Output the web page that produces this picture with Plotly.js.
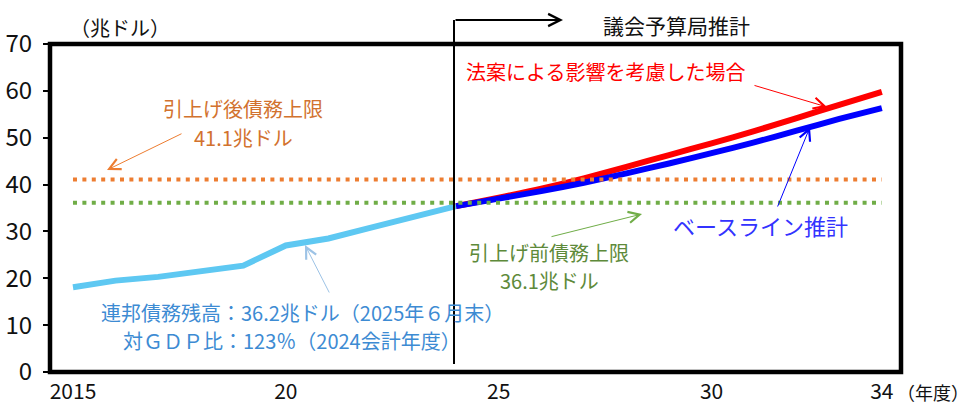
<!DOCTYPE html>
<html>
<head>
<meta charset="utf-8">
<script src="https://cdn.plot.ly/plotly-3.0.1.min.js"></script>
<style>html,body{margin:0;padding:0;background:#fff;}#chart{width:970px;height:407px;}</style>
</head>
<body>
<div id="chart"></div>
<script>
// ---- data ----
const histYears = [2015, 2016, 2017, 2018, 2019, 2020, 2021, 2022, 2023, 2024];
const histDebt = [18.1, 19.5, 20.3, 21.6, 22.7, 27.0, 28.5, 30.8, 33.0, 35.4];

const projYears = [2024, 2025, 2026, 2027, 2028, 2029, 2030, 2031, 2032, 2033, 2034];
const baseline = [35.4, 37.0, 38.6, 40.4, 42.4, 44.5, 46.7, 49.0, 51.5, 54.0, 56.3];
const withBill = [35.4, 37.2, 39.1, 41.3, 43.8, 46.3, 48.8, 51.4, 54.2, 57.0, 59.8];

const ceilingYears = [2015, 2034];
const ceilingAfter = [41.1, 41.1];
const ceilingBefore = [36.1, 36.1];

const xTickVals = [2015, 2020, 2025, 2030, 2034];
const xTickText = ['2015', '20', '25', '30', '34'];
const yTickVals = [0, 10, 20, 30, 40, 50, 60, 70];

// ---- layout helpers (pixel -> paper) ----
const L = 50, R = 901, T = 44, B = 372;
const px = v => (v - L) / (R - L);
const py = v => (B - v) / (B - T);

const JP = '"Noto Sans CJK JP", "Noto Sans", sans-serif';
const NUM = '"Liberation Sans Narrow", "Noto Sans CJK JP", sans-serif';

const traces = [
  {x: histYears, y: histDebt, mode: 'lines', line: {color: '#5EC8F2', width: 6}, hoverinfo: 'skip'},
  {x: projYears, y: withBill, mode: 'lines', line: {color: '#FF0000', width: 6, shape: 'spline', smoothing: 0.6}, hoverinfo: 'skip'},
  {x: projYears, y: baseline, mode: 'lines', line: {color: '#0000FF', width: 6, shape: 'spline', smoothing: 0.6}, hoverinfo: 'skip'},
  {x: ceilingYears, y: ceilingAfter, mode: 'lines', line: {color: '#ED7D31', width: 4, dash: '4px,5.4px'}, hoverinfo: 'skip'},
  {x: ceilingYears, y: ceilingBefore, mode: 'lines', line: {color: '#70AD47', width: 4, dash: '4px,5.4px'}, hoverinfo: 'skip'}
];

function txt(text, x, y, color, size, xanchor) {
  return {text: text, xref: 'paper', yref: 'paper', x: px(x), y: py(y), xanchor: xanchor || 'center', yanchor: 'middle',
          showarrow: false, font: {family: JP, size: size, color: color}, align: 'center'};
}
function arrow(x0, y0, x1, y1, color, width, head, size) {
  return {text: '', xref: 'paper', yref: 'paper', x: px(x1), y: py(y1), axref: 'pixel', ayref: 'pixel',
          ax: x0 - x1, ay: y0 - y1, showarrow: true, arrowcolor: color, arrowwidth: width,
          arrowhead: head, arrowsize: size, standoff: 0, startstandoff: 0};
}

const annotations = [
  txt('（兆ドル）', 120, 27, '#111', 20),
  txt('議会予算局推計', 676, 25, '#111', 21),
  txt('引上げ後債務上限', 243, 109, '#D2722E', 20),
  txt('41.1兆ドル', 243, 137, '#D2722E', 20),
  txt('法案による影響を考慮した場合', 605, 72, '#FF0000', 20),
  txt('ベースライン推計', 760, 225, '#3333FF', 22),
  txt('引上げ前債務上限', 549, 252, '#5E8A3A', 20),
  txt('36.1兆ドル', 549, 280, '#5E8A3A', 20),
  txt('連邦債務残高：36.2兆ドル（2025年６月末）', 99, 312, '#3D8BD3', 20, 'left'),
  txt('対ＧＤＰ比：123％（2024会計年度）', 121, 340, '#3D8BD3', 20, 'left'),
  txt('（年度）', 895, 392, '#111', 18, 'left'),
  arrow(454, 20, 563, 20, '#000', 2, 5, 1.2),
  arrow(183, 133, 107, 170, '#ED7D31', 1, 5, 2.2),
  arrow(753, 85, 827, 107, '#FF0000', 1, 5, 2.2),
  arrow(777, 208, 810, 127, '#0000FF', 1, 5, 2.2),
  arrow(550, 237, 642, 214, '#70AD47', 1, 5, 2.2),
  arrow(330, 294, 305, 245, '#9DC3E6', 1, 5, 2.2)
];

const shapes = [
  {type: 'rect', xref: 'paper', yref: 'paper', x0: 0, x1: 1, y0: 0, y1: 1, line: {color: '#000', width: 4.5}, layer: 'above'},
  {type: 'line', xref: 'paper', yref: 'paper', x0: px(454), x1: px(454), y0: py(364), y1: py(20), line: {color: '#000', width: 2}, layer: 'above'}
];

const layout = {
  width: 970, height: 407,
  margin: {l: L, r: 970 - R, t: T, b: 407 - B, pad: 0},
  paper_bgcolor: '#fff', plot_bgcolor: '#fff',
  showlegend: false,
  xaxis: {range: [2014.46, 2034.45], tickvals: xTickVals, ticktext: xTickText, showgrid: false, zeroline: false,
          showline: false, ticks: '', ticklabelstandoff: 5, tickfont: {family: NUM, size: 21, color: '#111'}},
  yaxis: {range: [0, 70], tickvals: yTickVals, showgrid: false, zeroline: false, showline: false,
          ticks: 'outside', ticklen: 6, tickwidth: 2, tickcolor: '#000', ticklabelstandoff: 6,
          tickfont: {family: NUM, size: 24, color: '#111'}},
  annotations: annotations,
  shapes: shapes
};

Plotly.newPlot('chart', traces, layout, {staticPlot: true, displayModeBar: false});
</script>
</body>
</html>
